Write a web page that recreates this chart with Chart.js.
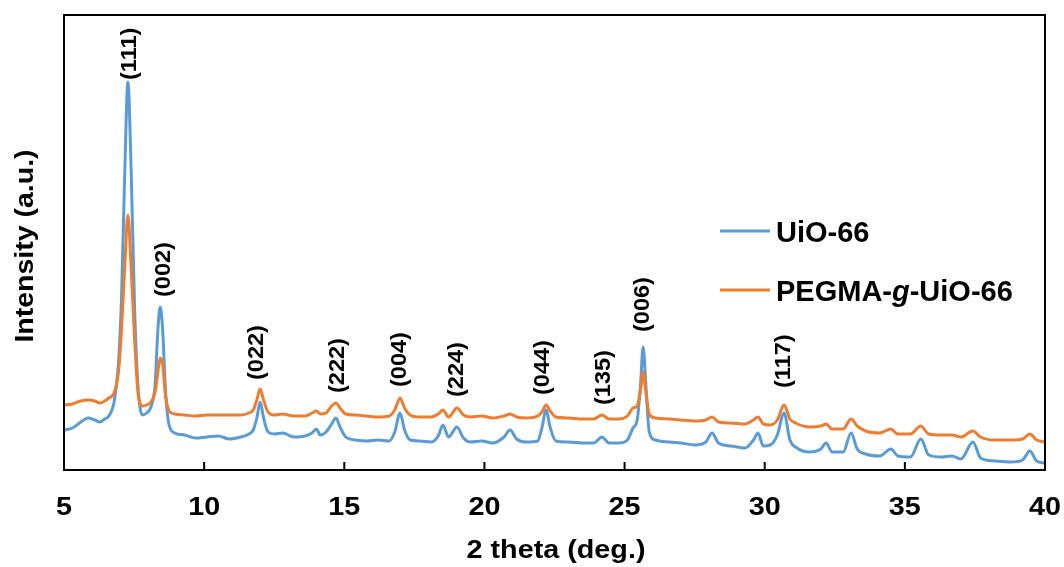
<!DOCTYPE html>
<html>
<head>
<meta charset="utf-8">
<script src="https://cdn.jsdelivr.net/npm/chart.js@4"></script>
<style>
  body { margin: 0; background: #fff; }
  #wrap { width: 1064px; height: 567px; }
</style>
</head>
<body>
<div id="wrap"><canvas id="xrd" width="1064" height="567"></canvas></div>
<script>
// 2 theta (deg.) sampling, shared by both patterns
const twoTheta = [
  5.0, 5.3, 5.6, 5.86, 6.1, 6.28, 6.45, 6.6, 6.8, 6.95, 7.05, 7.17, 7.28, 7.4, 7.52, 7.65, 7.8, 7.95,
  8.1, 8.25, 8.35, 8.43, 8.52, 8.62, 8.75, 8.95, 9.3, 9.7, 10.1, 10.5, 10.9, 11.3, 11.6, 11.75, 11.88,
  12.0, 12.12, 12.28, 12.5, 12.8, 13.2, 13.6, 13.85, 14.0, 14.15, 14.35, 14.55, 14.7, 14.85, 15.05,
  15.4, 15.8, 16.2, 16.6, 16.8, 16.99, 17.15, 17.35, 17.7, 18.1, 18.35, 18.52, 18.72, 19.02, 19.25,
  19.5, 19.9, 20.3, 20.7, 20.91, 21.15, 21.5, 21.9, 22.05, 22.2, 22.35, 22.55, 23.0, 23.5, 23.9,
  24.19, 24.45, 24.8, 25.1, 25.3, 25.45, 25.57, 25.66, 25.76, 25.88, 26.1, 26.6, 27.0, 27.5, 27.9,
  28.12, 28.35, 28.8, 29.3, 29.6, 29.76, 29.95, 30.2, 30.45, 30.69, 30.9, 31.1, 31.6, 32.0, 32.19,
  32.4, 32.8, 33.08, 33.3, 33.6, 34.1, 34.5, 34.75, 35.2, 35.57, 35.85, 36.3, 36.68, 37.0, 37.43,
  37.7, 38.2, 38.8, 39.2, 39.46, 39.7, 40.0
];

// intensity (a.u.)
const uio66 = [
  40, 42, 48, 52, 50, 48, 51, 54, 70, 110, 170, 300, 388, 295, 160, 80, 55, 57,
  63, 85, 140, 163, 140, 80, 45, 37, 35, 32, 33, 34, 31, 33, 36, 40, 52,
  68, 52, 38, 36, 37, 33, 34, 37, 41, 35, 38, 46, 52, 43, 33,
  30, 29, 30, 29, 38, 57, 40, 30, 29, 28, 34, 45, 33, 43, 32,
  28, 29, 27, 33, 40, 31, 28, 29, 42, 60, 42, 29, 28, 27, 27,
  33, 27, 27, 30, 42, 50, 85, 123, 85, 38, 30, 28, 27, 25, 28,
  37, 27, 24, 22, 30, 37, 24, 25, 35, 57, 30, 23, 18, 21, 27,
  18, 18, 37, 21, 16, 14, 21, 14, 13, 31, 15, 13, 14, 11, 28,
  12, 9, 8, 10, 19, 9, 7
];

const pegmaUio66 = [
  65, 66, 69, 70, 69, 67, 69, 72, 78, 100, 140, 205, 255, 200, 130, 75, 64, 65,
  68, 78, 98, 112, 105, 75, 59, 56, 55, 54, 55, 55, 55, 55, 57, 60, 70,
  81, 70, 58, 55, 56, 54, 54, 57, 59, 56, 57, 64, 67, 62, 56,
  55, 54, 53, 54, 60, 72, 62, 55, 53, 53, 56, 60, 53, 62, 55,
  53, 54, 52, 54, 56, 53, 52, 54, 58, 65, 59, 53, 52, 51, 51,
  55, 51, 51, 54, 62, 64, 80, 98, 78, 56, 52, 51, 50, 49, 50,
  53, 48, 47, 46, 50, 53, 46, 45, 50, 65, 51, 47, 43, 44, 46,
  41, 41, 51, 44, 39, 37, 41, 36, 36, 44, 36, 35, 35, 33, 39,
  33, 30, 30, 31, 36, 30, 28
];

// peak indexing labels
const peakLabels = ['(111)', '(002)', '(022)', '(222)', '(004)', '(224)', '(044)', '(135)', '(006)', '(117)'];
const peakPos    = [7.35, 8.55, 11.89, 14.76, 17.0, 19.02, 22.09, 24.27, 25.64, 30.69];
const peakLevel  = [390, 173, 90, 77, 83, 73, 75, 65, 138, 82];

const xTicks = [5, 10, 15, 20, 25, 30, 35, 40];

const BLUE = '#5B9BD5';
const ORANGE = '#ED7D31';
const FONT = '"Liberation Sans", Arial, sans-serif';

function drawText(ctx, s, x, y, size, o = {}) {
  ctx.save();
  ctx.translate(x, y);
  if (o.rotate) ctx.rotate(-Math.PI / 2);
  ctx.scale(o.stretch || 1, 1);
  ctx.font = (o.italic ? 'italic ' : '') + 'bold ' + size + 'px ' + FONT;
  ctx.fillStyle = '#000';
  ctx.textAlign = o.align || 'left';
  ctx.textBaseline = o.baseline || 'alphabetic';
  ctx.fillText(s, 0, 0);
  const w = ctx.measureText(s).width * (o.stretch || 1);
  ctx.restore();
  return w;
}

const decorations = {
  id: 'decorations',
  afterDatasetsDraw(chart) {
    const { ctx, chartArea: a, scales: { x, y } } = chart;

    // frame
    ctx.save();
    ctx.strokeStyle = '#000';
    ctx.lineWidth = 2;
    ctx.strokeRect(a.left, a.top, a.right - a.left, a.bottom - a.top);

    // inward ticks + labels
    xTicks.forEach(t => {
      const px = x.getPixelForValue(t);
      ctx.beginPath();
      ctx.moveTo(px, a.bottom);
      ctx.lineTo(px, a.bottom - 8);
      ctx.stroke();
      drawText(ctx, String(t), px, 515, 25, { align: 'center', stretch: 1.15 });
    });
    ctx.restore();

    // axis titles
    drawText(ctx, '2 theta (deg.)', 556, 558, 25, { align: 'center', stretch: 1.15 });
    drawText(ctx, 'Intensity (a.u.)', 33, 246, 25, { align: 'center', rotate: true, stretch: 1.14 });

    // peak labels
    peakLabels.forEach((lab, i) => {
      drawText(ctx, lab, x.getPixelForValue(peakPos[i]), y.getPixelForValue(peakLevel[i]), 22,
        { rotate: true, baseline: 'middle', stretch: 1.07 });
    });

    // legend
    const items = [
      { color: BLUE, parts: [['UiO-66', false]], y: 231 },
      { color: ORANGE, parts: [['PEGMA-', false], ['g', true], ['-UiO-66', false]], y: 290 }
    ];
    items.forEach(it => {
      ctx.save();
      ctx.strokeStyle = it.color;
      ctx.lineWidth = 3;
      ctx.beginPath();
      ctx.moveTo(720, it.y);
      ctx.lineTo(770, it.y);
      ctx.stroke();
      ctx.restore();
      let tx = 776;
      it.parts.forEach(([s, ital]) => {
        tx += drawText(ctx, s, tx, it.y + 11, 29, { italic: ital });
      });
    });
  }
};

new Chart(document.getElementById('xrd'), {
  type: 'line',
  data: {
    datasets: [
      {
        label: 'PEGMA-g-UiO-66',
        data: twoTheta.map((t, i) => ({ x: t, y: pegmaUio66[i] })),
        borderColor: ORANGE,
        borderWidth: 3,
        pointRadius: 0,
        cubicInterpolationMode: 'monotone'
      },
      {
        label: 'UiO-66',
        data: twoTheta.map((t, i) => ({ x: t, y: uio66[i] })),
        borderColor: BLUE,
        borderWidth: 3,
        pointRadius: 0,
        cubicInterpolationMode: 'monotone'
      }
    ]
  },
  options: {
    responsive: false,
    animation: false,
    layout: { padding: { left: 64, right: 19, top: 15, bottom: 97 } },
    scales: {
      x: { type: 'linear', min: 5, max: 40, display: false },
      y: { min: 0, max: 455, display: false }
    },
    plugins: {
      legend: { display: false },
      tooltip: { enabled: false }
    }
  },
  plugins: [decorations]
});
</script>
</body>
</html>
